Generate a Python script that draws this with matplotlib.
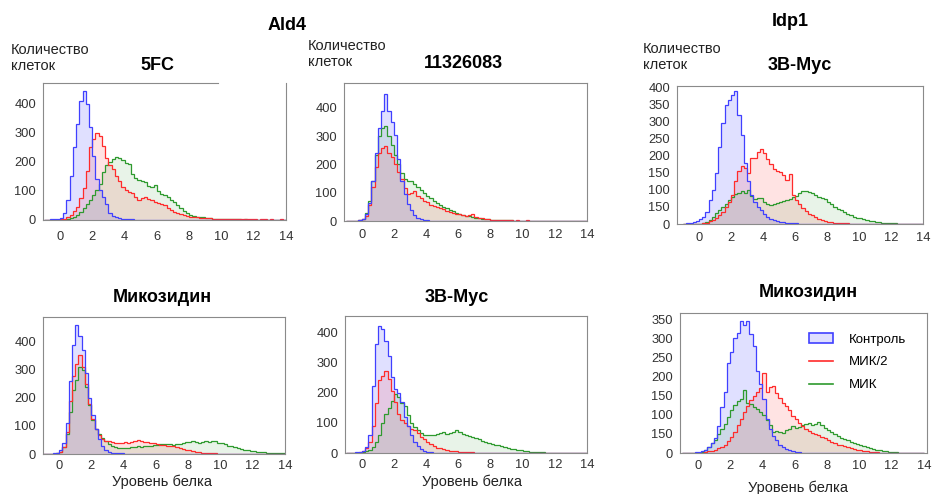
import numpy as np
import matplotlib
matplotlib.use('Agg')
import matplotlib.pyplot as plt
from matplotlib.patches import Patch
from matplotlib.lines import Line2D

plt.rcParams['font.family'] = ['Liberation Sans', 'DejaVu Sans']

# histogram bins: 0.2 wide from -1 to 14, counts listed from the first bin (centre -0.9)
bin_edges = np.round(np.arange(-1.0, 14.01, 0.2), 2)
N_BINS = len(bin_edges) - 1

x_ticks = [0, 2, 4, 6, 8, 10, 12, 14]
legend_labels = ['Контроль', 'МИК/2', 'МИК']

# Ald4 / 5FC
ald4_5fc_ctrl = [0, 1, 2, 3, 5, 8, 25, 70, 150, 250, 330, 410, 445, 400, 320, 220, 140, 105, 80, 55,
                 25, 15, 10, 6, 5, 3, 2, 2, 1, 1, 1, 1, 1, 0, 1, 1, 0, 1, 1, 0, 1, 0, 1]
ald4_5fc_half = [0, 0, 0, 0, 1, 3, 5, 10, 18, 30, 45, 75, 110, 170, 250, 280, 300, 290, 255, 215,
                 190, 175, 150, 135, 115, 102, 95, 92, 80, 70, 75, 80, 72, 68, 62, 57, 55, 50, 42, 34,
                 28, 23, 20, 17, 14, 11, 10, 9, 8, 7, 6, 6, 5, 4, 4, 3, 3, 3, 2, 3,
                 2, 2, 3, 2, 2, 2, 1, 2, 2, 1, 2, 1, 1, 2, 1]
ald4_5fc_full = [0, 0, 0, 0, 0, 0, 0, 3, 6, 10, 18, 28, 40, 55, 68, 85, 105, 125, 165, 190,
                 200, 210, 218, 212, 205, 195, 192, 160, 145, 138, 135, 130, 118, 112, 120, 100, 90, 85, 78, 70,
                 62, 50, 40, 30, 23, 18, 14, 12, 10, 9, 8, 6, 5, 5, 4, 4, 3, 3, 2, 2,
                 2, 1, 2, 1, 1, 1, 1, 0, 1]

# Ald4 / 11326083
ald4_113_ctrl = [0, 0, 0, 1, 3, 8, 25, 65, 140, 240, 330, 390, 450, 390, 350, 305, 220, 140, 95, 60,
                 40, 22, 12, 6, 3, 2, 1, 1, 1, 0, 1, 0, 1]
ald4_113_half = [0, 0, 0, 0, 2, 6, 18, 55, 120, 190, 240, 258, 265, 240, 225, 200, 175, 150, 118, 95,
                 100, 105, 90, 80, 72, 66, 58, 53, 50, 46, 44, 36, 32, 29, 26, 23, 20, 17, 20, 25,
                 14, 12, 9, 8, 7, 5, 4, 3, 3, 2, 2, 2, 1, 2, 1, 1, 2, 1, 1, 1, 0, 1]
ald4_113_full = [0, 0, 0, 0, 2, 8, 28, 70, 140, 235, 300, 330, 335, 300, 270, 235, 200, 170, 150, 140,
                 140, 130, 120, 110, 100, 90, 80, 70, 62, 55, 50, 45, 40, 35, 30, 25, 20, 18, 16, 14,
                 12, 10, 8, 7, 6, 5, 4, 3, 3, 2, 2, 2, 1, 1, 1, 1, 0, 1, 0, 1]

# Ald4 / Микозидин
ald4_myc_ctrl = [0, 0, 1, 2, 4, 15, 40, 110, 260, 390, 460, 420, 370, 290, 200, 140, 90, 55, 30, 15,
                 8, 5, 3, 2, 2, 1, 1, 1, 0, 1, 0, 1]
ald4_myc_half = [0, 0, 0, 0, 2, 8, 25, 80, 190, 280, 320, 355, 310, 250, 180, 125, 88, 68, 55, 48,
                 45, 42, 40, 38, 40, 42, 38, 44, 46, 50, 48, 44, 42, 40, 38, 35, 33, 31, 30, 28,
                 27, 24, 21, 18, 15, 13, 11, 8, 6, 5, 4, 3, 2, 2, 1, 1, 1, 1, 0, 1]
ald4_myc_full = [0, 0, 0, 0, 2, 8, 25, 70, 150, 230, 265, 310, 300, 240, 175, 120, 88, 70, 58, 45,
                 35, 28, 24, 22, 21, 21, 23, 25, 26, 27, 26, 28, 29, 30, 32, 33, 34, 36, 37, 34,
                 33, 36, 37, 40, 42, 43, 46, 42, 40, 44, 45, 42, 48, 45, 40, 38, 34, 30, 27, 24,
                 21, 18, 15, 13, 12, 10, 8, 7, 6, 5, 4, 4, 3, 2, 2]

# Ald4 / 3B-Myc
ald4_3b_ctrl = [0, 0, 1, 2, 3, 8, 20, 60, 220, 360, 420, 410, 370, 320, 250, 210, 198, 170, 120, 90,
                60, 38, 24, 12, 6, 3, 2, 1, 1, 0, 1]
ald4_3b_half = [0, 0, 0, 0, 2, 6, 15, 35, 90, 165, 240, 255, 270, 245, 205, 170, 130, 108, 98, 88,
                80, 76, 65, 53, 45, 38, 31, 24, 18, 15, 13, 10, 8, 7, 6, 4, 3, 3, 2, 2,
                1, 1, 1, 1, 0, 1]
ald4_3b_full = [0, 0, 0, 0, 0, 2, 5, 9, 20, 35, 60, 100, 130, 150, 172, 195, 185, 165, 155, 125,
                100, 85, 75, 66, 60, 58, 58, 60, 62, 65, 68, 64, 66, 70, 75, 68, 62, 58, 55, 52,
                48, 46, 40, 36, 33, 31, 28, 25, 22, 20, 17, 14, 12, 11, 9, 7, 6, 4, 3, 3,
                2, 2, 1, 1, 1, 1, 0, 1, 0, 1]

# Idp1 / 3B-Myc
idp1_3b_ctrl = [0, 2, 4, 6, 9, 15, 22, 35, 70, 100, 150, 225, 295, 350, 365, 380, 390, 320, 260, 180,
                125, 85, 65, 50, 40, 28, 20, 15, 12, 9, 7, 5, 4, 3, 2, 2, 1, 1, 1, 0, 1]
idp1_3b_half = [0, 0, 0, 0, 0, 0, 2, 4, 8, 13, 18, 26, 35, 50, 65, 85, 125, 155, 170, 165,
                150, 195, 195, 210, 220, 208, 190, 175, 160, 155, 152, 145, 130, 148, 85, 70, 58, 47, 38, 30,
                25, 20, 14, 11, 8, 7, 5, 4, 3, 3, 2, 2, 1, 1, 1, 1, 0, 1]
idp1_3b_full = [0, 0, 0, 0, 0, 0, 3, 7, 13, 22, 32, 42, 50, 60, 70, 80, 88, 92, 96, 90,
                100, 82, 72, 75, 76, 65, 60, 57, 58, 62, 65, 68, 71, 74, 78, 82, 92, 97, 96, 94,
                90, 86, 80, 76, 72, 66, 60, 50, 45, 42, 35, 30, 26, 22, 19, 17, 14, 12, 10, 8,
                6, 5, 4, 3, 3, 2, 2, 1, 1, 1, 1, 0, 1]

# Idp1 / Микозидин
idp1_myc_ctrl = [0, 0, 0, 1, 2, 3, 5, 9, 15, 25, 40, 70, 120, 160, 235, 265, 300, 315, 345, 335,
                 345, 310, 280, 215, 180, 140, 90, 62, 45, 33, 22, 15, 10, 7, 4, 3, 2, 1, 1, 0, 1]
idp1_myc_half = [0, 0, 0, 0, 0, 0, 1, 3, 4, 6, 9, 12, 16, 22, 32, 42, 55, 72, 90, 108,
                 122, 138, 150, 160, 170, 210, 160, 172, 175, 158, 145, 130, 122, 112, 98, 88, 78, 70, 64, 58,
                 53, 50, 46, 43, 38, 34, 30, 26, 22, 20, 17, 15, 13, 11, 9, 7, 5, 4, 3, 2,
                 2, 1, 1, 1, 0, 1]
idp1_myc_full = [0, 0, 0, 0, 0, 1, 3, 8, 16, 25, 35, 50, 62, 75, 95, 112, 125, 135, 140, 165,
                 132, 128, 120, 115, 106, 100, 85, 72, 55, 58, 55, 52, 60, 64, 70, 66, 68, 72, 76, 78,
                 72, 75, 80, 72, 66, 60, 54, 50, 44, 40, 36, 33, 30, 27, 23, 20, 17, 15, 13, 11,
                 9, 7, 5, 4, 3, 3, 2, 1, 1, 1, 1, 0, 1]

idp1_3b_yticks = [0, 50, 100, 150, 200, 250, 300, 350, 400]
idp1_3b_ylabels = ['0', '150', '100', '150', '200', '250', '300', '350', '400']
idp1_myc_yticks = [0, 50, 100, 150, 200, 250, 300, 350]
idp1_myc_ylabels = ['0', '150', '100', '150', '200', '250', '300', '350']

BLUE = '#4040ff'
RED = '#ff2b2b'
GREEN = '#2e9a2e'
SPINE = '#8a8a8a'
W, H = 932, 494


def fx(px):
    return px / W


def fy(py):
    return 1 - py / H


def pad(counts):
    c = np.zeros(N_BINS)
    n = min(len(counts), N_BINS)
    c[:n] = counts[:n]
    return c


def draw_panel(box, ctrl, half, full, xlim, ylim, yticks, ylabels=None, xpad=7):
    left, top, right, bottom = box
    ax = fig.add_axes([fx(left), fy(bottom), (right - left) / W, (bottom - top) / H])
    for counts, col, a in ((ctrl, BLUE, 0.16), (half, RED, 0.13), (full, GREEN, 0.11)):
        ax.stairs(pad(counts), bin_edges, fill=True, facecolor=col, alpha=a, edgecolor='none')
    for counts, col in ((full, GREEN), (half, RED), (ctrl, BLUE)):
        ax.stairs(pad(counts), bin_edges, color=col, lw=0.9)
    ax.set_xlim(*xlim)
    ax.set_ylim(*ylim)
    ax.set_xticks(x_ticks)
    ax.set_yticks(yticks)
    if ylabels is not None:
        ax.set_yticklabels(ylabels)
    ax.tick_params(axis='both', length=0, labelsize=9.3, labelcolor='#333333')
    ax.tick_params(axis='x', pad=xpad)
    ax.tick_params(axis='y', pad=5)
    for s in ax.spines.values():
        s.set_color(SPINE)
        s.set_linewidth(0.8)
    return ax


fig = plt.figure(figsize=(9.32, 4.94), dpi=100)

ax1 = draw_panel((43, 83, 286, 220), ald4_5fc_ctrl, ald4_5fc_half, ald4_5fc_full,
                 (-1.05, 14), (0, 472), [0, 100, 200, 300, 400], xpad=8)
ax1.spines['top'].set_bounds(-1.05, 9.8)
draw_panel((344, 83, 587, 221), ald4_113_ctrl, ald4_113_half, ald4_113_full,
           (-1.1, 14), (0, 488), [0, 100, 200, 300, 400], xpad=6)
draw_panel((677, 86, 923, 224), idp1_3b_ctrl, idp1_3b_half, idp1_3b_full,
           (-1.37, 14), (0, 405), idp1_3b_yticks, idp1_3b_ylabels, xpad=6)
draw_panel((43, 317, 285, 454), ald4_myc_ctrl, ald4_myc_half, ald4_myc_full,
           (-1.0, 14), (0, 489), [0, 100, 200, 300, 400], xpad=4)
draw_panel((345, 316, 587, 453), ald4_3b_ctrl, ald4_3b_half, ald4_3b_full,
           (-1.05, 14), (0, 453), [0, 100, 200, 300, 400], xpad=4)
ax6 = draw_panel((680, 313, 927, 453), idp1_myc_ctrl, idp1_myc_half, idp1_myc_full,
                 (-1.1, 14.2), (0, 366), idp1_myc_yticks, idp1_myc_ylabels, xpad=5)

handles = [Patch(facecolor='#dedeff', edgecolor=BLUE, lw=1.2),
           Line2D([], [], color=RED, lw=1.2),
           Line2D([], [], color=GREEN, lw=1.2)]
ax6.legend(handles, legend_labels, loc='upper left', bbox_to_anchor=(0.48, 0.93),
           frameon=False, fontsize=9.5, handlelength=1.8, handletextpad=1.2,
           labelspacing=0.8, borderpad=0.3)

# group and panel titles
fig.text(fx(287), fy(25), 'Ald4', ha='center', va='center', fontsize=13, fontweight='bold')
fig.text(fx(790), fy(22), 'Idp1', ha='center', va='center', fontsize=13, fontweight='bold')
fig.text(fx(157), fy(66), '5FC', ha='center', va='center', fontsize=13, fontweight='bold')
fig.text(fx(463), fy(63), '11326083', ha='center', va='center', fontsize=13, fontweight='bold')
fig.text(fx(800), fy(65), '3B-Myc', ha='center', va='center', fontsize=13, fontweight='bold')
fig.text(fx(162), fy(297), 'Микозидин', ha='center', va='center', fontsize=13, fontweight='bold')
fig.text(fx(457), fy(297), '3B-Myc', ha='center', va='center', fontsize=13, fontweight='bold')
fig.text(fx(808), fy(292), 'Микозидин', ha='center', va='center', fontsize=13, fontweight='bold')

for px, py in ((11, 58), (308, 54), (643, 57)):
    fig.text(fx(px), fy(py), 'Количество\nклеток', ha='left', va='center',
             fontsize=10.5, color='#222222', linespacing=1.2)
for px, py in ((162, 482), (472, 482), (798, 488)):
    fig.text(fx(px), fy(py), 'Уровень белка', ha='center', va='center',
             fontsize=10.5, color='#222222')

fig.savefig('out.png', dpi=100)
